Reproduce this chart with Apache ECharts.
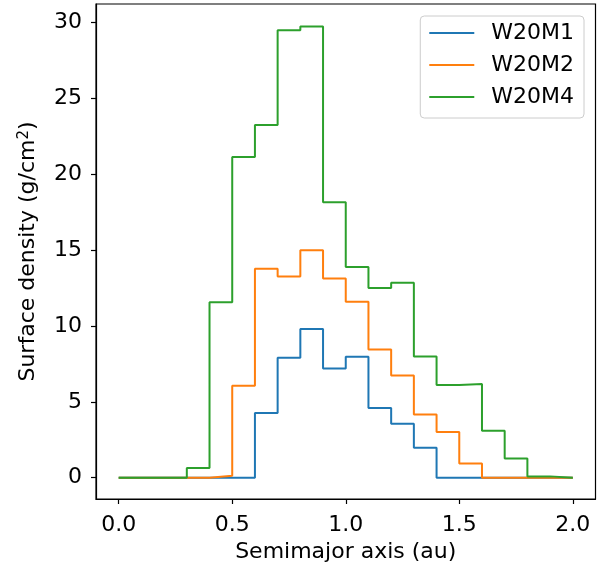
<!DOCTYPE html>
<html>
<head>
<meta charset="utf-8">
<script src="https://cdn.jsdelivr.net/npm/echarts@6/dist/echarts.min.js"></script>
<style>html,body{margin:0;padding:0;background:#fff;}#c{width:608px;height:569px;}</style>
</head>
<body>
<div id="c"></div>
<script>
const binStarts = [0.0,0.1,0.2,0.3,0.4,0.5,0.6,0.7,0.8,0.9,1.0,1.1,1.2,1.3,1.4,1.5,1.6,1.7,1.8,1.9];
const binEnd = 2.0;
const seriesNames = ['W20M1','W20M2','W20M4'];
const w20m1 = [0,0,0,0,0,0,4.26,7.90,9.79,7.20,7.97,4.59,3.56,1.98,0,0,0,0,0,0];
const w20m2 = [0,0,0,0,0.13,6.06,13.77,13.26,14.98,13.13,11.59,8.45,6.74,4.17,3.01,0.94,0,0,0,0];
const w20m4 = [0,0,0,0.64,11.55,21.13,23.23,29.47,29.71,18.14,13.88,12.50,12.85,7.99,6.10,6.17,3.10,1.27,0.09,0];
const xTicks = [0.0,0.5,1.0,1.5,2.0];
const yTicks = [0,5,10,15,20,25,30];
const colors = ['#1f77b4','#ff7f0e','#2ca02c'];

function stepData(vals){
  const d = binStarts.map((x,i)=>[x, vals[i]]);
  d.push([binEnd, vals[vals.length-1]]);
  return d;
}
const font = 'DejaVu Sans';
const fs = 22;
const chart = echarts.init(document.getElementById('c'));
chart.setOption({
  animation: false,
  grid: {left: 96, right: 12.5, top: 4, bottom: 70, show: true, borderColor: '#000', borderWidth: 1.2, backgroundColor: 'transparent'},
  xAxis: {
    type: 'value', min: -0.1, max: 2.1,
    name: 'Semimajor axis (au)', nameLocation: 'middle', nameGap: 35,
    nameTextStyle: {fontFamily: font, fontSize: fs, color: '#000'},
    axisLine: {show: true, onZero: false, lineStyle: {color: '#000', width: 1.2}},
    axisTick: {show: true, length: 5, lineStyle: {color: '#000', width: 1.2}, customValues: xTicks},
    axisLabel: {fontFamily: font, fontSize: fs, color: '#000', margin: 15, customValues: xTicks, formatter: v => v.toFixed(1)},
    splitLine: {show: false}
  },
  yAxis: {
    type: 'value', min: -1.4, max: 31.2,
    name: 'Surface density (g/cm{sup|2})', nameLocation: 'middle', nameGap: 56, nameRotate: 90,
    nameTextStyle: {fontFamily: font, fontSize: fs, color: '#000', rich: {sup: {fontFamily: font, fontSize: 15, color: '#000', verticalAlign: 'top', padding: [0,0,8,0]}}},
    axisLine: {show: true, onZero: false, lineStyle: {color: '#000', width: 1.2}},
    axisTick: {show: true, length: 5, lineStyle: {color: '#000', width: 1.2}, customValues: yTicks},
    axisLabel: {fontFamily: font, fontSize: fs, color: '#000', margin: 14, customValues: yTicks},
    splitLine: {show: false}
  },
  legend: {
    orient: 'vertical', right: 24, top: 16,
    data: seriesNames.map(n => ({name: n, icon: 'rect'})),
    itemWidth: 45, itemHeight: 2.2, itemGap: 10,
    padding: [6, 10, 10, 9],
    borderColor: '#cccccc', borderWidth: 1, borderRadius: 4,
    backgroundColor: 'rgba(255,255,255,0.8)',
    textStyle: {fontFamily: font, fontSize: fs, color: '#000', padding: [0,0,0,12]}
  },
  series: [w20m1, w20m2, w20m4].map((vals,i)=>({
    name: seriesNames[i], type: 'line', step: 'end', data: stepData(vals),
    symbol: 'none', showSymbol: false,
    lineStyle: {color: colors[i], width: 2}, itemStyle: {color: colors[i]},
    emphasis: {disabled: true}
  }))
});
</script>
</body>
</html>
